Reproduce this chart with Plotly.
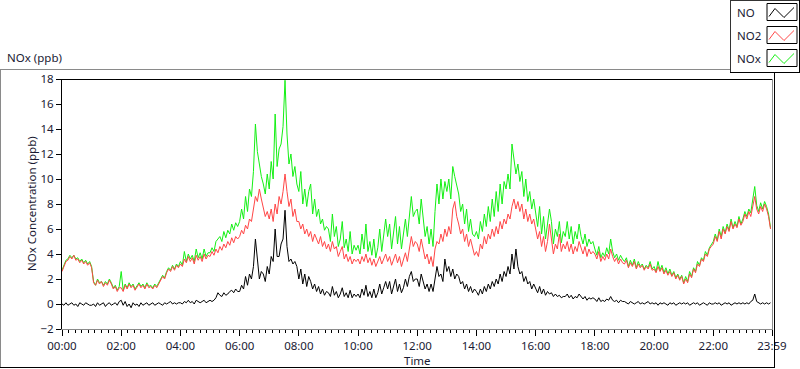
import plotly.graph_objects as go
import pandas as pd

# ---- data: 4-minute samples from 00:00 (15 samples per hour, one row per hour) ----
no2 = [
 2.6, 3.0, 3.4, 3.5, 3.8, 3.6, 3.9, 3.5, 3.6, 3.3, 3.5, 3.2, 3.4, 3.1, 3.3,
 2.9, 1.7, 1.5, 1.9, 1.6, 1.8, 1.4, 1.7, 1.5, 1.9, 1.6, 1.2, 1.4, 1.0, 1.3,
 1.3, 1.0, 1.5, 1.2, 1.6, 1.3, 1.5, 1.1, 1.4, 1.6, 1.3, 1.5, 1.2, 1.6, 1.3,
 1.4, 1.2, 1.5, 1.3, 1.6, 1.9, 2.2, 2.0, 2.5, 2.8, 2.6, 3.0, 2.7, 3.1, 2.9,
 3.2, 3.0, 3.6, 3.3, 3.8, 3.4, 3.7, 3.2, 3.9, 3.5, 3.8, 3.4, 4.0, 3.6, 3.9,
 3.8, 4.2, 3.9, 4.4, 4.1, 4.6, 4.3, 4.8, 4.5, 5.0, 4.7, 5.3, 4.9, 5.4, 5.2,
 5.4, 5.9, 5.6, 6.3, 6.0, 6.8, 6.6, 7.6, 8.6, 8.2, 9.2, 8.4, 7.6, 7.0, 7.4,
 6.8, 7.6, 6.6, 8.0, 7.2, 8.6, 8.0, 9.0, 10.4, 9.0, 7.8, 8.4, 7.0, 7.6, 6.6,
 6.6, 6.0, 6.4, 5.6, 6.0, 5.4, 5.8, 5.0, 5.6, 5.2, 4.8, 5.4, 4.6, 5.0, 4.4,
 4.8, 4.2, 5.0, 4.4, 4.6, 3.8, 4.2, 4.6, 3.6, 4.0, 3.4, 3.8, 3.2, 3.6, 3.4,
 3.6, 3.2, 3.8, 3.4, 4.0, 3.3, 3.7, 3.1, 3.6, 3.0, 3.4, 3.8, 3.2, 3.6, 4.0,
 3.4, 3.8, 3.1, 3.6, 4.0, 3.3, 3.8, 3.0, 3.6, 4.1, 3.4, 4.4, 5.4, 4.6, 5.0,
 4.8, 4.2, 5.2, 4.4, 3.6, 4.0, 3.2, 3.8, 3.0, 4.4, 5.0, 4.8, 5.6, 5.0, 6.0,
 5.4, 6.2, 5.6, 7.6, 8.2, 7.0, 6.4, 5.6, 6.0, 5.0, 5.6, 4.6, 5.2, 4.4, 3.9,
 4.2, 3.8, 4.8, 4.4, 5.4, 4.8, 5.6, 5.2, 6.0, 5.4, 6.2, 5.6, 6.6, 6.0, 6.8,
 6.4, 7.2, 6.8, 7.8, 8.4, 7.6, 8.2, 7.4, 8.0, 6.8, 7.6, 6.6, 7.2, 6.4, 6.8,
 6.0, 5.2, 5.8, 4.6, 5.4, 4.2, 5.0, 6.4, 5.2, 4.0, 4.8, 4.4, 5.6, 4.2, 4.8,
 4.4, 5.0, 4.2, 4.8, 4.0, 4.6, 4.2, 5.0, 4.4, 4.0, 4.6, 3.8, 4.4, 4.0, 4.2,
 4.0, 3.6, 4.2, 3.4, 3.8, 3.5, 4.0, 3.6, 4.4, 3.8, 3.4, 3.7, 3.2, 3.6, 3.3,
 3.2, 3.5, 2.9, 3.3, 3.0, 3.4, 2.8, 3.2, 2.9, 3.1, 2.7, 3.0, 2.8, 3.2, 2.7,
 2.8, 2.5, 3.0, 2.6, 2.9, 2.4, 2.7, 2.3, 2.6, 2.2, 2.5, 2.0, 2.3, 1.9, 2.2,
 1.6, 2.0, 1.7, 2.4, 2.1, 2.8, 2.5, 3.2, 3.0, 3.6, 3.4, 4.0, 3.8, 4.4, 4.6,
 4.8, 5.4, 5.0, 5.8, 5.2, 6.0, 5.6, 6.2, 5.8, 6.6, 6.0, 6.4, 6.1, 6.8, 6.3,
 6.6, 7.2, 6.8, 7.4, 7.0, 7.8, 8.6, 7.6, 7.2, 7.8, 7.4, 8.0, 7.6, 7.0, 6.0,
]

no = [
 0.0, -0.1, 0.1, -0.1, 0.0, 0.1, -0.1, 0.0, -0.2, 0.1, 0.0, -0.1, 0.1, 0.0, -0.1,
 -0.1, 0.0, -0.2, 0.1, -0.1, 0.0, 0.1, -0.2, 0.0, 0.1, -0.1, 0.0, 0.1, -0.1, 0.2,
 0.3, -0.1, 0.2, -0.2, 0.0, -0.3, 0.1, -0.1, 0.0, -0.2, 0.1, -0.1, 0.0, 0.1, -0.1,
 0.0, 0.1, -0.1, 0.0, 0.1, 0.0, -0.1, 0.1, 0.0, 0.1, 0.2, 0.0, 0.1, 0.0, 0.1,
 0.1, 0.0, 0.2, 0.1, 0.3, 0.1, 0.2, 0.0, 0.3, 0.2, 0.1, 0.2, 0.3, 0.1, 0.2,
 0.3, 0.2, 0.3, 0.5, 0.9, 0.7, 0.6, 0.9, 0.7, 0.8, 1.0, 1.1, 0.9, 1.2, 1.0,
 1.0, 1.5, 1.2, 2.2, 1.5, 2.4, 2.0, 3.0, 5.2, 3.6, 2.0, 2.6, 2.4, 1.8, 3.0,
 2.4, 3.8, 3.4, 6.0, 3.8, 3.8, 4.8, 5.2, 7.5, 4.6, 3.4, 3.6, 3.2, 3.4, 3.0,
 2.0, 2.8, 1.6, 2.4, 1.4, 2.2, 1.8, 1.2, 1.6, 1.0, 1.4, 0.8, 1.2, 0.7, 1.0,
 0.9, 0.6, 1.4, 0.7, 1.0, 0.5, 0.8, 1.3, 0.6, 0.9, 0.5, 1.1, 0.5, 0.8, 0.6,
 0.8, 0.5, 1.2, 0.7, 1.5, 0.6, 1.0, 0.5, 1.2, 0.5, 0.9, 1.6, 0.8, 1.3, 1.8,
 1.2, 1.8, 0.8, 1.4, 2.0, 1.0, 1.6, 0.9, 1.3, 2.0, 1.4, 2.2, 2.6, 1.8, 2.0,
 2.0, 1.4, 2.4, 1.8, 1.2, 1.6, 1.0, 1.6, 1.0, 2.0, 3.0, 2.2, 2.4, 1.8, 3.6,
 2.6, 3.0, 2.2, 2.8, 2.0, 2.4, 2.2, 1.6, 1.8, 1.2, 1.6, 1.0, 1.4, 0.9, 1.2,
 1.0, 0.7, 1.2, 0.8, 1.4, 1.0, 1.6, 1.2, 1.8, 1.4, 2.0, 1.6, 2.4, 1.8, 2.6,
 2.2, 3.0, 2.4, 4.0, 2.8, 4.4, 3.0, 2.4, 2.6, 1.8, 2.2, 1.6, 1.8, 1.2, 1.6,
 1.2, 0.9, 1.4, 0.8, 1.2, 0.7, 1.0, 0.8, 0.9, 0.6, 0.8, 0.6, 0.7, 0.5, 0.6,
 0.6, 0.8, 0.5, 0.7, 0.4, 0.6, 0.5, 0.8, 0.6, 0.4, 0.6, 0.3, 0.5, 0.4, 0.5,
 0.4, 0.2, 0.5, 0.2, 0.3, 0.2, 0.4, 0.3, 0.6, 0.3, 0.2, 0.3, 0.1, 0.3, 0.2,
 0.2, 0.1, 0.0, 0.2, 0.1, 0.0, 0.1, 0.2, 0.0, 0.1, 0.0, 0.1, 0.2, 0.0, 0.1,
 0.0, 0.1, -0.1, 0.1, 0.0, 0.1, 0.0, -0.1, 0.1, 0.0, 0.1, -0.1, 0.0, 0.1, 0.0,
 0.1, 0.0, 0.1, -0.1, 0.0, 0.1, 0.0, 0.1, -0.1, 0.0, 0.1, 0.0, -0.1, 0.1, 0.0,
 0.0, 0.1, 0.0, 0.1, -0.1, 0.0, 0.1, 0.0, 0.1, -0.1, 0.0, 0.1, 0.0, 0.1, 0.0,
 0.1, 0.0, 0.1, 0.0, 0.2, 0.3, 0.8, 0.2, 0.1, 0.0, 0.1, 0.0, 0.1, 0.0, 0.1,
]

nox = [
 2.7, 3.1, 3.5, 3.6, 3.9, 3.7, 3.9, 3.6, 3.7, 3.4, 3.6, 3.3, 3.5, 3.2, 3.4,
 3.0, 1.8, 1.5, 2.0, 1.7, 1.8, 1.5, 1.8, 1.6, 2.0, 1.7, 1.3, 1.5, 1.1, 1.4,
 2.6, 1.1, 1.6, 1.3, 1.7, 1.4, 1.6, 1.2, 1.5, 1.7, 1.4, 1.6, 1.3, 1.7, 1.4,
 1.5, 1.3, 1.6, 1.4, 1.7, 2.0, 2.3, 2.1, 2.6, 2.9, 2.7, 3.1, 2.8, 3.2, 3.0,
 3.4, 3.1, 4.2, 3.4, 4.0, 3.6, 3.9, 3.4, 4.4, 3.7, 4.1, 3.6, 4.4, 3.8, 4.1,
 4.1, 4.5, 4.2, 5.0, 5.2, 5.4, 5.0, 5.8, 5.3, 5.9, 5.6, 6.4, 5.9, 6.5, 6.2,
 6.6, 7.6, 6.8, 8.6, 7.4, 9.2, 8.6, 10.6, 14.4, 12.2, 11.0, 10.2, 9.6, 8.8, 10.4,
 9.2, 11.4, 10.0, 15.2, 11.0, 12.4, 12.8, 14.2, 17.9, 13.6, 11.2, 12.0, 10.2, 11.0, 9.6,
 9.0, 10.6, 8.0, 9.2, 7.8, 9.0, 9.6, 7.2, 8.4, 7.0, 7.6, 6.4, 6.8, 5.9, 6.2,
 6.0, 5.0, 7.2, 5.4, 6.2, 4.6, 5.2, 6.6, 4.5, 5.2, 4.2, 5.8, 4.0, 4.7, 4.3,
 4.7, 4.0, 5.6, 4.4, 6.4, 4.2, 5.0, 3.9, 5.2, 3.7, 4.5, 6.0, 4.2, 5.4, 6.8,
 5.4, 6.4, 4.4, 5.8, 7.0, 4.8, 6.2, 4.4, 5.6, 6.8, 5.4, 7.2, 8.6, 7.0, 7.4,
 7.6, 6.4, 8.4, 6.8, 5.4, 6.2, 4.8, 6.0, 4.6, 7.4, 9.6, 8.0, 10.0, 8.4, 9.8,
 9.0, 10.0, 8.4, 11.0, 10.2, 9.4, 8.8, 7.4, 8.0, 6.4, 7.6, 5.8, 6.8, 5.6, 5.4,
 5.8, 5.2, 6.6, 5.8, 7.2, 6.2, 7.8, 6.6, 8.4, 7.0, 9.0, 7.4, 9.6, 8.0, 9.8,
 9.2, 10.4, 9.2, 12.8, 11.4, 10.4, 11.2, 9.8, 10.6, 8.6, 10.0, 8.2, 9.0, 7.6, 8.4,
 7.4, 6.2, 7.8, 5.6, 7.0, 5.2, 6.4, 7.6, 6.6, 4.8, 6.0, 5.4, 6.6, 4.9, 5.8,
 5.4, 6.6, 5.2, 6.2, 4.8, 5.8, 5.2, 6.4, 5.4, 4.8, 5.6, 4.6, 5.2, 4.8, 5.0,
 4.4, 3.9, 4.6, 3.7, 4.1, 3.8, 4.5, 4.0, 5.2, 4.2, 3.7, 4.0, 3.5, 3.9, 3.6,
 3.4, 3.7, 3.0, 3.5, 3.1, 3.6, 2.9, 3.4, 3.0, 3.2, 2.8, 3.1, 2.9, 3.4, 2.8,
 3.0, 2.6, 3.4, 2.7, 3.1, 2.5, 2.9, 2.4, 2.8, 2.3, 2.6, 2.1, 2.4, 2.0, 2.3,
 1.7, 2.2, 1.8, 2.6, 2.2, 2.9, 2.6, 3.4, 3.1, 3.7, 3.5, 4.2, 3.9, 4.5, 4.8,
 5.0, 5.6, 5.1, 6.0, 5.4, 6.2, 5.7, 6.4, 5.9, 6.8, 6.1, 6.6, 6.2, 7.0, 6.4,
 6.8, 7.4, 7.0, 7.6, 7.3, 8.2, 9.4, 7.9, 7.4, 8.1, 7.6, 8.2, 7.8, 7.2, 6.1,
]

times = pd.date_range("2000-01-01 00:00", periods=len(no2), freq="4min")

tick_vals = ["2000-01-01 %02d:00" % h for h in range(0, 24, 2)] + ["2000-01-01 23:59"]
tick_text = ["%02d:00" % h for h in range(0, 24, 2)] + ["23:59"]

C_NO, C_NO2, C_NOX = "#000000", "#ff4646", "#14f014"
FONT = "Noto Sans"
TXT = "#1a1a33"
FS = 11.5

fig = go.Figure()
fig.add_trace(go.Scatter(x=times, y=nox, mode="lines", line=dict(color=C_NOX, width=1), name="NOx"))
fig.add_trace(go.Scatter(x=times, y=no2, mode="lines", line=dict(color=C_NO2, width=1), name="NO2"))
fig.add_trace(go.Scatter(x=times, y=no, mode="lines", line=dict(color=C_NO, width=1), name="NO"))

L, T, W, H = 62, 79, 710, 250
def px(x):
    return (x - L) / W
def py(y):
    return (T + H - y) / H

shapes = []
def line(x0, y0, x1, y1, color, width=1):
    shapes.append(dict(type="line", xref="paper", yref="paper",
                       x0=px(x0), y0=py(y0), x1=px(x1), y1=py(y1),
                       line=dict(color=color, width=width)))

# outer frame
line(0, 69.5, 730, 69.5, "#8a8a8a")
line(0.5, 69.5, 0.5, 367.5, "#8a8a8a")
line(0, 367.5, 775, 367.5, "#000000")
line(774.5, 72, 774.5, 367.5, "#000000")
# plot frame top / right
line(62, 79.5, 772, 79.5, "#000000")
line(772.5, 79, 772.5, 330, "#8a8a8a")
# legend box
line(730.5, 0, 730.5, 72.5, "#333333")
line(730, 72.5, 800, 72.5, "#000000")
line(730, 0.5, 800, 0.5, "#333333")
line(799.5, 0, 799.5, 72.5, "#000000")

annotations = []
def text(x, y, s, size=FS, angle=0, xanchor="left"):
    annotations.append(dict(xref="paper", yref="paper", x=px(x), y=py(y), text=s,
                            showarrow=False, xanchor=xanchor, yanchor="middle",
                            textangle=angle, font=dict(family=FONT, size=size, color=TXT)))

legend_items = [("NO", C_NO), ("NO2", C_NO2), ("NOx", C_NOX)]
for i, (name, col) in enumerate(legend_items):
    yc = 12.5 + 23 * i
    text(735, yc, name)
    bx0, bx1, by0, by1 = 767, 797, yc - 9, yc + 8
    line(bx0, by0, bx1, by0, "#000000")
    line(bx0, by0, bx0, by1, "#000000")
    line(bx0, by1, bx1, by1, "#000000")
    line(bx1, by0, bx1, by1, "#000000")
    zz = [(769, yc + 4), (775, yc - 4), (784, yc + 5), (794, yc - 5)]
    path = "M " + " L ".join("%f,%f" % (px(a), py(b)) for a, b in zz)
    shapes.append(dict(type="path", xref="paper", yref="paper", path=path,
                       line=dict(color=col, width=1)))

text(5, 58, "NOx (ppb)")
text(31, 204, "NOx Concentration (ppb)", angle=-90, xanchor="center")
text(417, 360, "Time", xanchor="center")

fig.update_layout(
    width=800, height=369,
    margin=dict(l=L, r=800 - L - W, t=T, b=369 - T - H),
    paper_bgcolor="white", plot_bgcolor="white",
    showlegend=False,
    font=dict(family=FONT, size=FS, color=TXT),
    shapes=shapes, annotations=annotations,
    xaxis=dict(
        type="date", range=["2000-01-01 00:00", "2000-01-01 23:59"],
        tickmode="array", tickvals=tick_vals, ticktext=tick_text,
        ticks="outside", ticklen=6, tickcolor="#000000", tickwidth=1,
        showline=True, linecolor="#8a8a8a", linewidth=1,
        showgrid=False, zeroline=False,
        minor=dict(ticks="outside", ticklen=3, tickcolor="#000000",
                   dtick=800000, tick0="2000-01-01 00:00", showgrid=False),
        tickfont=dict(family=FONT, size=FS, color=TXT),
    ),
    yaxis=dict(
        range=[-2, 18], tickmode="linear", tick0=-2, dtick=2,
        ticks="outside", ticklen=5, tickcolor="#000000",
        showline=True, linecolor="#000000", linewidth=1,
        showgrid=False, zeroline=False,
        tickfont=dict(family=FONT, size=FS, color=TXT),
    ),
)

fig.write_html("out.html", config={"displayModeBar": False},
               post_script="document.body.style.margin='0';document.body.style.overflow='hidden';")
